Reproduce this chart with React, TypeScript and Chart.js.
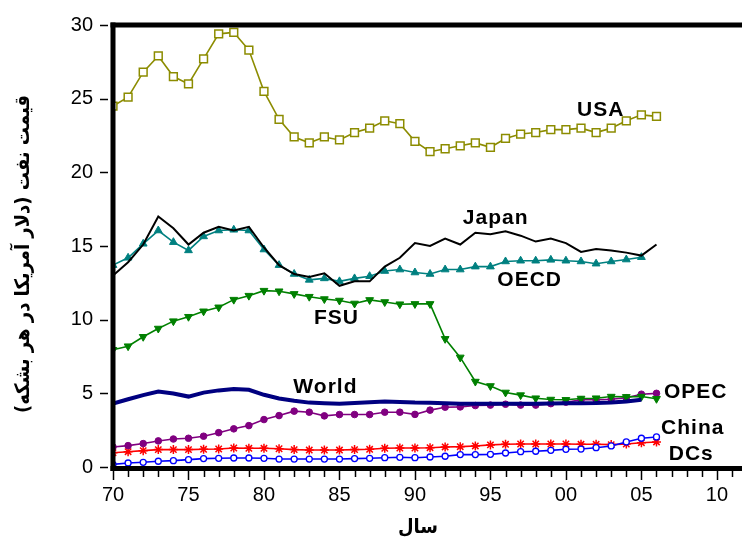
import React, { useEffect, useRef } from 'react';
import { Chart, registerables } from 'chart.js';

Chart.register(...registerables);

const years = [70, 71, 72, 73, 74, 75, 76, 77, 78, 79, 80, 81, 82, 83, 84, 85, 86, 87, 88, 89, 90, 91, 92, 93, 94, 95, 96, 97, 98, 99, 100, 101, 102, 103, 104, 105, 106];

const usa = [24.5, 25.1, 26.8, 27.9, 26.5, 26.0, 27.7, 29.4, 29.5, 28.3, 25.5, 23.6, 22.4, 22.0, 22.4, 22.2, 22.7, 23.0, 23.5, 23.3, 22.1, 21.4, 21.6, 21.8, 22.0, 21.7, 22.3, 22.6, 22.7, 22.9, 22.9, 23.0, 22.7, 23.0, 23.5, 23.9, 23.8];
const japan = [13.0, 13.9, 15.1, 17.0, 16.2, 15.1, 15.9, 16.3, 16.05, 16.3, 14.9, 13.7, 13.1, 12.9, 13.15, 12.3, 12.6, 12.6, 13.6, 14.2, 15.2, 15.0, 15.5, 15.1, 15.9, 15.8, 16.0, 15.7, 15.3, 15.5, 15.2, 14.6, 14.8, 14.7, 14.55, 14.35, 15.1];
const oecd = [13.7, 14.2, 15.15, 16.05, 15.26, 14.7, 15.65, 16.05, 16.1, 16.05, 14.76, 13.7, 13.1, 12.7, 12.8, 12.6, 12.8, 12.95, 13.3, 13.4, 13.2, 13.1, 13.4, 13.4, 13.6, 13.6, 13.95, 14.0, 14.0, 14.06, 14.0, 13.95, 13.8, 13.95, 14.08, 14.24, null];
const fsu = [7.96, 8.2, 8.84, 9.4, 9.9, 10.2, 10.57, 10.84, 11.36, 11.63, 11.97, 11.93, 11.75, 11.56, 11.4, 11.3, 11.1, 11.34, 11.2, 11.05, 11.07, 11.07, 8.7, 7.44, 5.8, 5.5, 5.06, 4.88, 4.67, 4.58, 4.56, 4.65, 4.67, 4.78, 4.76, 4.78, 4.63];
const world = [4.3, 4.6, 4.88, 5.12, 4.99, 4.78, 5.05, 5.2, 5.3, 5.24, 4.9, 4.65, 4.49, 4.37, 4.33, 4.3, 4.35, 4.4, 4.44, 4.42, 4.37, 4.36, 4.33, 4.3, 4.3, 4.3, 4.3, 4.3, 4.3, 4.31, 4.32, 4.33, 4.34, 4.38, 4.45, 4.56, null];
const opec = [1.36, 1.45, 1.59, 1.77, 1.9, 1.95, 2.09, 2.33, 2.59, 2.81, 3.22, 3.49, 3.79, 3.72, 3.47, 3.56, 3.56, 3.56, 3.72, 3.72, 3.57, 3.86, 4.06, 4.08, 4.17, 4.2, 4.26, 4.2, 4.2, 4.3, 4.4, 4.56, 4.56, 4.6, 4.7, 4.94, 5.0];
const dcs = [0.97, 1.04, 1.11, 1.18, 1.18, 1.18, 1.2, 1.22, 1.29, 1.27, 1.27, 1.24, 1.18, 1.15, 1.15, 1.15, 1.18, 1.2, 1.27, 1.29, 1.29, 1.31, 1.36, 1.38, 1.43, 1.5, 1.54, 1.56, 1.56, 1.56, 1.56, 1.54, 1.54, 1.52, 1.56, 1.65, 1.7];
const china = [0.18, 0.27, 0.32, 0.39, 0.43, 0.5, 0.57, 0.59, 0.61, 0.61, 0.59, 0.54, 0.54, 0.54, 0.54, 0.54, 0.57, 0.59, 0.63, 0.66, 0.63, 0.68, 0.73, 0.84, 0.84, 0.86, 0.95, 1.04, 1.07, 1.13, 1.2, 1.22, 1.31, 1.43, 1.7, 1.95, 2.04];

const seriesLabels = ['USA', 'Japan', 'OECD', 'FSU', 'World', 'OPEC', 'DCs', 'China'];
// text annotations: text, x (year), y (value)
const annotationText = ['USA', 'Japan', 'OECD', 'FSU', 'World', 'OPEC', 'China', 'DCs'];
const annotationX = [102.3, 95.35, 97.6, 84.8, 84.07, 108.6, 108.4, 108.3];
const annotationY = [24.2, 16.9, 12.65, 10.07, 5.41, 5.1, 2.62, 0.85];

const xMin = 70;
const xMax = 111.2;
const xTickValues = [70, 75, 80, 85, 90, 95, 100, 105, 110];
const yMin = 0;
const yMax = 30;
const yTickValues = [0, 5, 10, 15, 20, 25, 30];

const yTitle = 'قیمت نفت (دلار آمریکا در هر بشکه)';
const xTitle = 'سال';

const TICK_FONT = '"Liberation Sans", Arial, Helvetica, sans-serif';
const FA_FONT = '"DejaVu Sans Condensed", "DejaVu Sans", sans-serif';

function pts(vals: (number | null)[]) {
  return years.map((y, i) => ({ x: y, y: vals[i] }));
}

const overlayPlugin = {
  id: 'overlay',
  afterDatasetsDraw(chart: any) {
    const { ctx, chartArea, scales } = chart;
    const xs = scales.x;
    const ys = scales.y;
    const { left, top, bottom } = chartArea;
    ctx.save();
    // axes
    ctx.strokeStyle = '#000';
    ctx.lineWidth = 5;
    ctx.lineCap = 'butt';
    ctx.beginPath();
    ctx.moveTo(left, top - 2.5);
    ctx.lineTo(left, bottom + 4);
    ctx.stroke();
    ctx.beginPath();
    ctx.moveTo(left - 2.5, top);
    ctx.lineTo(chart.width, top);
    ctx.stroke();
    ctx.beginPath();
    ctx.moveTo(left - 2.5, bottom + 1.5);
    ctx.lineTo(chart.width, bottom + 1.5);
    ctx.stroke();

    // x ticks
    ctx.lineWidth = 1.5;
    for (let v = Math.ceil(xMin); v <= Math.floor(xMax); v++) {
      const px = Math.round(xs.getPixelForValue(v)) + 0.5;
      const major = v % 5 === 0;
      ctx.beginPath();
      ctx.moveTo(px, bottom + 4);
      ctx.lineTo(px, bottom + (major ? 13 : 10));
      ctx.stroke();
    }
    // y ticks
    for (const v of yTickValues) {
      const py = Math.round(ys.getPixelForValue(v)) + 0.5;
      ctx.beginPath();
      ctx.moveTo(left - 13, py);
      ctx.lineTo(left - 5, py);
      ctx.stroke();
    }

    // annotations
    ctx.fillStyle = '#000';
    ctx.font = 'bold 21px ' + TICK_FONT;
    ctx.textAlign = 'center';
    ctx.textBaseline = 'middle';
    try { (ctx as any).letterSpacing = '1px'; } catch (e) {}
    annotationText.forEach((t, i) => {
      ctx.fillText(t, xs.getPixelForValue(annotationX[i]), ys.getPixelForValue(annotationY[i]));
    });
    try { (ctx as any).letterSpacing = '0px'; } catch (e) {}

    // axis titles
    ctx.font = 'bold 20px ' + FA_FONT;
    ctx.direction = 'rtl';
    ctx.textAlign = 'center';
    ctx.textBaseline = 'middle';
    ctx.fillText(xTitle, 418, 528);
    ctx.save();
    ctx.translate(24, 254);
    ctx.rotate(-Math.PI / 2);
    ctx.fillText(yTitle, 0, 0);
    ctx.restore();
    ctx.restore();
  },
};

export default function App() {
  const ref = useRef<HTMLCanvasElement | null>(null);
  useEffect(() => {
    if (!ref.current) return;
    const chart = new Chart(ref.current, {
      type: 'line',
      data: {
        datasets: [
          {
            label: seriesLabels[0], data: pts(usa), borderColor: '#8c8c00', borderWidth: 1.6,
            pointStyle: 'rect', pointRadius: 5.5, pointBackgroundColor: '#ffffff', pointBorderColor: '#8c8c00', pointBorderWidth: 1.5, order: 8,
          },
          {
            label: seriesLabels[1], data: pts(japan), borderColor: '#000000', borderWidth: 2, pointRadius: 0, order: 2,
          },
          {
            label: seriesLabels[2], data: pts(oecd), borderColor: '#008080', borderWidth: 1.6,
            pointStyle: 'triangle', pointRadius: 4.5, pointBackgroundColor: '#008080', pointBorderColor: '#008080', pointBorderWidth: 1, order: 3,
          },
          {
            label: seriesLabels[3], data: pts(fsu), borderColor: '#008000', borderWidth: 1.6,
            pointStyle: 'triangle', pointRotation: 180, pointRadius: 4.5, pointBackgroundColor: '#008000', pointBorderColor: '#008000', pointBorderWidth: 1, order: 4,
          },
          {
            label: seriesLabels[4], data: pts(world), borderColor: '#000080', borderWidth: 4, pointRadius: 0, order: 1,
          },
          {
            label: seriesLabels[5], data: pts(opec), borderColor: '#800080', borderWidth: 1.6,
            pointStyle: 'circle', pointRadius: 3.3, pointBackgroundColor: '#800080', pointBorderColor: '#800080', pointBorderWidth: 1, order: 5,
          },
          {
            label: seriesLabels[6], data: pts(dcs), borderColor: '#ff0000', borderWidth: 1.6,
            pointStyle: 'star', pointRadius: 4.5, pointBackgroundColor: '#ff0000', pointBorderColor: '#ff0000', pointBorderWidth: 1.5, order: 7,
          },
          {
            label: seriesLabels[7], data: pts(china), borderColor: '#0000ff', borderWidth: 1.6,
            pointStyle: 'circle', pointRadius: 3, pointBackgroundColor: '#ffffff', pointBorderColor: '#0000ff', pointBorderWidth: 1.3, order: 6,
          },
        ],
      },
      options: {
        animation: false,
        responsive: false,
        maintainAspectRatio: false,
        spanGaps: false,
        layout: { padding: { top: 25, right: 0, left: 0, bottom: 0 } },
        elements: { line: { tension: 0 } },
        plugins: { legend: { display: false }, tooltip: { enabled: false } },
        scales: {
          x: {
            type: 'linear',
            min: xMin,
            max: xMax,
            bounds: 'data',
            afterBuildTicks: (s: any) => { s.ticks = xTickValues.map((v) => ({ value: v })); },
            afterFit: (s: any) => { s.height = 77; s.paddingLeft = 0; s.paddingRight = 0; },
            grid: { display: false, drawTicks: false },
            border: { display: false },
            ticks: {
              autoSkip: false,
              maxRotation: 0,
              padding: 16,
              color: '#000',
              font: { family: TICK_FONT, size: 20 },
              callback: (v: any) => String(Number(v) % 100).padStart(2, '0'),
            },
          },
          y: {
            min: yMin,
            max: yMax,
            afterFit: (s: any) => { s.width = 113; s.paddingTop = 0; s.paddingBottom = 0; },
            grid: { display: false, drawTicks: false },
            border: { display: false },
            ticks: {
              stepSize: 5,
              padding: 20,
              color: '#000',
              font: { family: TICK_FONT, size: 20 },
            },
          },
        },
      },
      plugins: [overlayPlugin],
    } as any);
    return () => chart.destroy();
  }, []);
  return (
    <div style={{ position: 'fixed', left: 0, top: 0, width: 742, height: 544, background: '#fff' }}>
      <canvas ref={ref} width={742} height={544} style={{ width: 742, height: 544 }} />
    </div>
  );
}
